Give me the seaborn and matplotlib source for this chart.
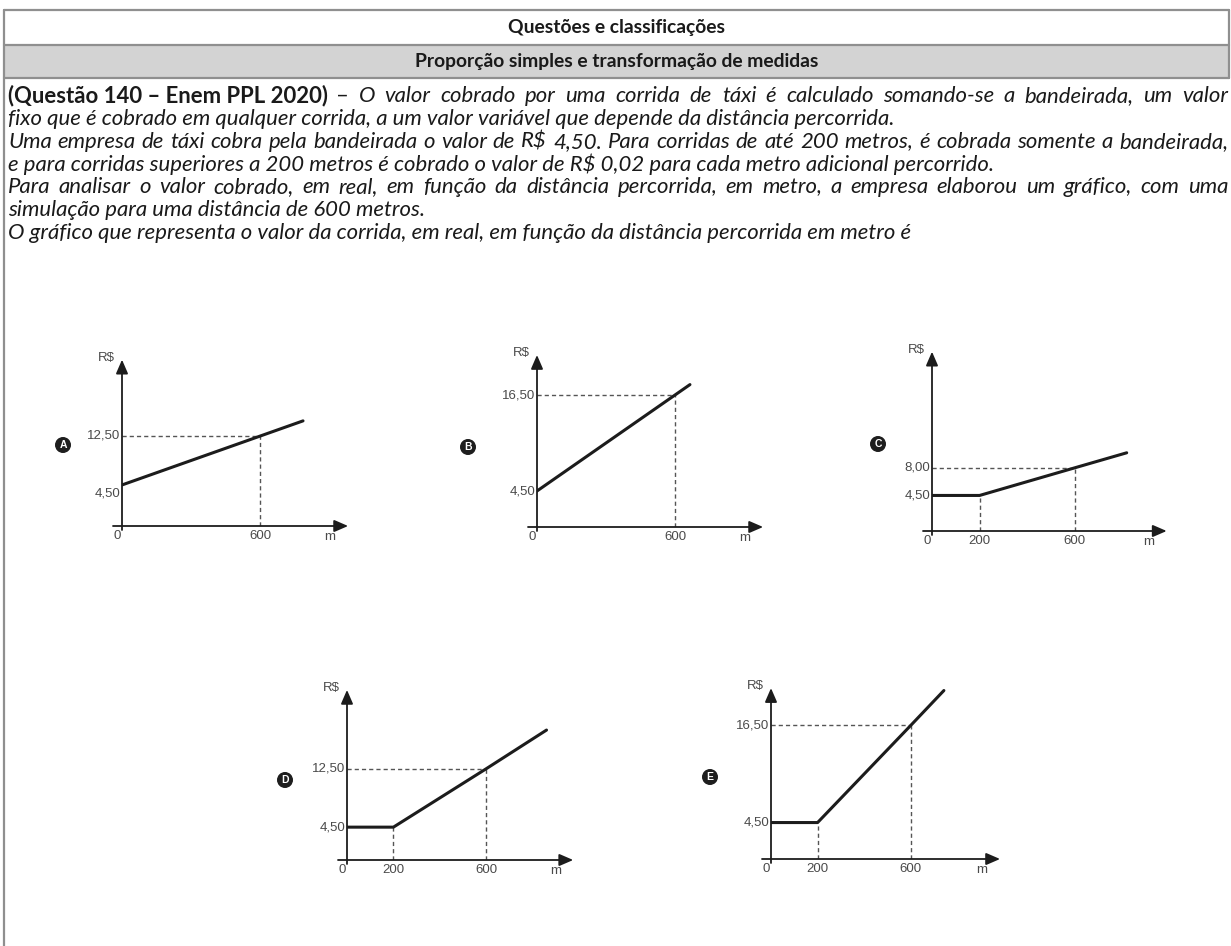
import matplotlib
matplotlib.use("Agg")
import matplotlib.pyplot as plt
import seaborn as sns
from matplotlib.lines import Line2D
from matplotlib.patches import Rectangle

# ---- data ----
header_1 = "Questões e classificações"
header_2 = "Proporção simples e transformação de medidas"

lead_bold = "(Questão 140 – Enem PPL 2020)"
body_lines = [
    "– O valor cobrado por uma corrida de táxi é calculado somando-se a bandeirada, um valor",
    "fixo que é cobrado em qualquer corrida, a um valor variável que depende da distância percorrida.",
    "Uma empresa de táxi cobra pela bandeirada o valor de R$ 4,50. Para corridas de até 200 metros, é cobrada somente a bandeirada,",
    "e para corridas superiores a 200 metros é cobrado o valor de R$ 0,02 para cada metro adicional percorrido.",
    "Para analisar o valor cobrado, em real, em função da distância percorrida, em metro, a empresa elaborou um gráfico, com uma",
    "simulação para uma distância de 600 metros.",
    "O gráfico que representa o valor da corrida, em real, em função da distância percorrida em metro é",
]
justified = [True, False, True, False, True, False, False]

options = ["A", "B", "C", "D", "E"]
a_x = [0, 787]
a_y = [5.7, 14.6]
b_x = [0, 665]
b_y = [4.5, 17.8]
c_x = [0, 200, 600, 818]
c_y = [4.5, 4.5, 8.0, 9.9]
d_x = [0, 200, 600, 860]
d_y = [4.5, 4.5, 12.5, 17.8]
e_x = [0, 200, 600, 742]
e_y = [4.5, 4.5, 16.5, 20.8]
line_x = [a_x, b_x, c_x, d_x, e_x]
line_y = [a_y, b_y, c_y, d_y, e_y]

xticks = [[600], [600], [200, 600], [200, 600], [200, 600]]
yticks = [[4.5, 12.5], [4.5, 16.5], [4.5, 8.0], [4.5, 12.5], [4.5, 16.5]]
guide_y = [12.5, 16.5, 8.0, 12.5, 16.5]   # value marked at 600 m
flat_until = [None, None, 200, 200, 200]   # end of the flat bandeirada part

# ---- layout (pixels of the 1231x946 picture) ----
W, H = 1231, 946
origins = [(122, 526), (537, 527), (932, 531), (347, 860), (771, 859)]
x_scale = [0.23, 0.23, 0.238, 0.232, 0.233]    # px per metre
y_scale = [7.2, 8.0, 7.9, 7.3, 8.1]            # px per real
x_end = [983, 983, 986, 975, 983]
y_end = [23.1, 21.5, 22.7, 23.3, 21.1]
letter_pos = [(63, 445), (468, 447), (878, 444), (285, 780), (710, 777)]

sns.set_theme(style="white")
plt.rcParams["font.family"] = ["Lato", "DejaVu Sans"]

fig = plt.figure(figsize=(W / 100, H / 100), dpi=100)
renderer = fig.canvas.get_renderer()


def fx(x):
    return x / W


def fy(y):
    return 1 - y / H


def width_of(s, **kw):
    t = fig.text(0, 0, s, **kw)
    w = t.get_window_extent(renderer).width
    t.remove()
    return w


# ---- table header ----
border = "#8f8f8f"
fig.add_artist(Rectangle((fx(4), fy(78)), fx(1225), 33 / H, transform=fig.transFigure,
                         facecolor="#d3d3d3", edgecolor="none"))
for yy in (10, 45, 78):
    fig.add_artist(Line2D([fx(4), fx(1229)], [fy(yy), fy(yy)], color=border, lw=1.6))
fig.add_artist(Line2D([fx(4), fx(4)], [fy(10), fy(946)], color=border, lw=1.6))
fig.add_artist(Line2D([fx(1229), fx(1229)], [fy(10), fy(78)], color=border, lw=1.6))

head_size = 10 * 405 / width_of(header_2, fontsize=10, fontweight="bold")
fig.text(fx(617), fy(28), header_1, ha="center", va="center", fontsize=head_size,
         fontweight="bold", color="#1a1a1a")
fig.text(fx(617), fy(61), header_2, ha="center", va="center", fontsize=head_size,
         fontweight="bold", color="#1a1a1a")

# ---- question text ----
body_size = 10 * 885 / width_of(body_lines[1], fontsize=10, style="italic")
ital = dict(fontsize=body_size, style="italic", color="#1a1a1a")
bold = dict(fontsize=body_size, fontweight="bold", color="#1a1a1a")
plain = dict(fontsize=body_size, color="#1a1a1a")
line_ys = [96, 119, 142, 164, 187, 210, 233]
x_left, x_right = 8, 1228

for i, (txt, just) in enumerate(zip(body_lines, justified)):
    x0 = x_left
    if i == 0:
        fig.text(fx(x0), fy(line_ys[i]), lead_bold, ha="left", va="center", **bold)
        x0 += width_of(lead_bold, **bold) + 8
    if not just:
        fig.text(fx(x0), fy(line_ys[i]), txt, ha="left", va="center", **ital)
        continue
    words = [(w, plain if w == "–" else ital) for w in txt.split(" ")]
    widths = [width_of(w, **kw) for w, kw in words]
    gap = (x_right - x0 - sum(widths)) / (len(words) - 1)
    x = x0
    for (w, kw), wd in zip(words, widths):
        fig.text(fx(x), fy(line_ys[i]), w, ha="left", va="center", **kw)
        x += wd + gap

# ---- the five small graphs ----
ink = "#1c1c1c"
label_col = "#4a4a4a"
tick_font = dict(family=["Liberation Sans", "DejaVu Sans"], fontsize=9.5, color=label_col)
dash = (0, (3.0, 2.2))
arrow = dict(arrowstyle="-|>,head_length=0.6,head_width=0.26", color=ink, lw=1.3,
             shrinkA=0, shrinkB=0, mutation_scale=14)

for k in range(5):
    ox, oy = origins[k]
    w_px = x_end[k] * x_scale[k]
    h_px = y_end[k] * y_scale[k]
    ax = fig.add_axes([fx(ox), fy(oy), w_px / W, h_px / H])
    ax.set_xlim(0, x_end[k])
    ax.set_ylim(0, y_end[k])
    ax.axis("off")

    # dashed guides
    ax.plot([0, 600], [guide_y[k], guide_y[k]], ls=dash, color="#555555", lw=1.0)
    ax.plot([600, 600], [0, guide_y[k]], ls=dash, color="#555555", lw=1.0)
    if flat_until[k] is not None:
        ax.plot([flat_until[k]] * 2, [0, 4.5], ls=dash, color="#555555", lw=1.0)

    # the price line
    sns.lineplot(x=line_x[k], y=line_y[k], ax=ax, color=ink, lw=2.2,
                 sort=False, estimator=None)

    # axes with arrows
    left_pad = 9 / x_scale[k]
    low_pad = 4 / y_scale[k]
    ax.annotate("", xy=(x_end[k], 0), xytext=(-left_pad, 0), annotation_clip=False,
                arrowprops=arrow)
    ax.annotate("", xy=(0, y_end[k]), xytext=(0, -low_pad), annotation_clip=False,
                arrowprops=arrow)

    # labels
    pt = 0.72
    for xv in xticks[k]:
        ax.annotate(str(xv), (xv, 0), xytext=(0, -10 * pt), textcoords="offset points",
                    ha="center", va="center", annotation_clip=False, **tick_font)
    ax.annotate("0", (0, 0), xytext=(-5 * pt, -10 * pt), textcoords="offset points",
                ha="center", va="center", annotation_clip=False, **tick_font)
    ax.annotate("m", (x_end[k], 0), xytext=(-18 * pt, -11 * pt), textcoords="offset points",
                ha="center", va="center", annotation_clip=False, **tick_font)
    for yv in yticks[k]:
        ax.annotate(f"{yv:.2f}".replace(".", ","), (0, yv), xytext=(-2 * pt, 0),
                    textcoords="offset points", ha="right", va="center",
                    annotation_clip=False, **tick_font)
    ax.annotate("R$", (0, y_end[k]), xytext=(-16 * pt, 2 * pt), textcoords="offset points",
                ha="center", va="center", annotation_clip=False, **tick_font)

    lx, ly = letter_pos[k]
    fig.text(fx(lx), fy(ly), options[k], ha="center", va="center", fontsize=7.5,
             fontweight="bold", color="white", family=["Liberation Sans", "DejaVu Sans"],
             bbox=dict(boxstyle="circle,pad=0.22", fc="#1e1e1e", ec="#1e1e1e"))

fig.savefig("out.png", dpi=100)
